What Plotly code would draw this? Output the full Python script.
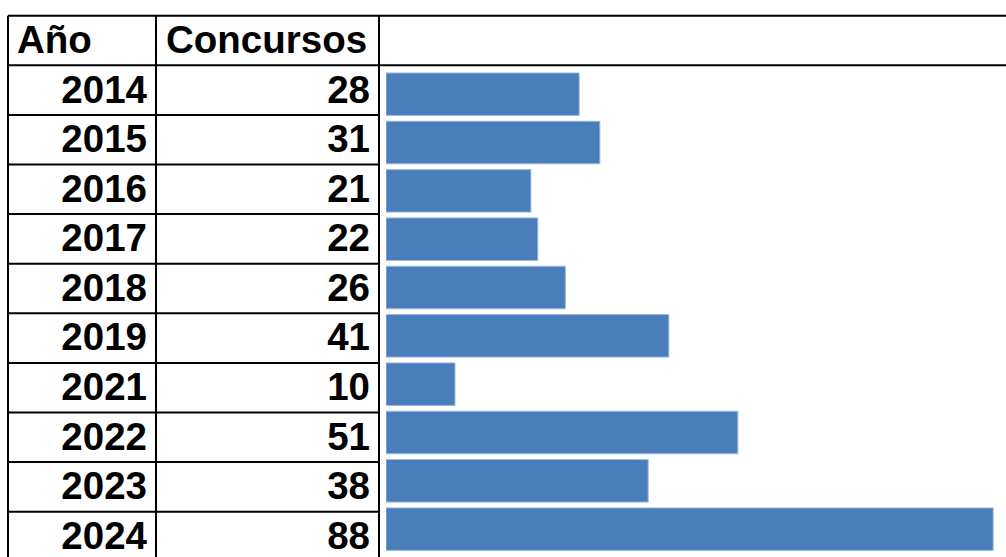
import plotly.graph_objects as go

# ---- data ----
years = ["2014", "2015", "2016", "2017", "2018", "2019", "2021", "2022", "2023", "2024"]
concursos = [28, 31, 21, 22, 26, 41, 10, 51, 38, 88]
header_year = "Año"
header_count = "Concursos"

BAR_COLOR = "#4a7ebb"
FONT = dict(family="Liberation Sans, Arial, sans-serif", size=38.5, color="black", weight="bold")

n = len(years)
row_idx = [i + 1 for i in range(n)]  # header is row 0 on the table axis

fig = go.Figure()

# table text: header
fig.add_trace(go.Scatter(
    x=[17, 166], y=[0, 0], mode="text", text=[header_year, header_count],
    textposition="middle right", textfont=FONT, hoverinfo="skip",
    xaxis="x", yaxis="y3"))
# years (right aligned)
fig.add_trace(go.Scatter(
    x=[147] * n, y=row_idx, mode="text", text=years,
    textposition="middle left", textfont=FONT, hoverinfo="skip",
    xaxis="x", yaxis="y3"))
# counts (right aligned)
fig.add_trace(go.Scatter(
    x=[370] * n, y=row_idx, mode="text", text=[str(v) for v in concursos],
    textposition="middle left", textfont=FONT, hoverinfo="skip",
    xaxis="x", yaxis="y3"))

# bars
fig.add_trace(go.Bar(
    x=concursos, y=years, orientation="h", width=0.88,
    marker=dict(color=BAR_COLOR, line=dict(color="#9dbbe0", width=1)),
    xaxis="x2", yaxis="y2", hoverinfo="skip"))

# table lines
LINE = dict(color="black", width=2)
shapes = []
top = -0.5
bottom = n + 1.5
# top border and header bottom extend to the right edge
shapes.append(dict(type="line", xref="x", yref="y", x0=8, x1=1006, y0=top, y1=top, line=LINE))
shapes.append(dict(type="line", xref="x", yref="y", x0=8, x1=1006, y0=0.5, y1=0.5, line=LINE))
for i in range(1, n + 1):
    b = i + 0.5
    shapes.append(dict(type="line", xref="x", yref="y", x0=8, x1=379, y0=b, y1=b, line=LINE))
for xv in [8, 156, 379]:
    shapes.append(dict(type="line", xref="x", yref="y", x0=xv, x1=xv, y0=top, y1=bottom, line=LINE))

fig.update_layout(
    width=1006, height=557,
    margin=dict(l=0, r=0, t=0, b=0),
    paper_bgcolor="white", plot_bgcolor="white",
    showlegend=False,
    shapes=shapes,
    xaxis=dict(domain=[0, 1], range=[0, 1006], visible=False, fixedrange=True),
    yaxis=dict(domain=[0, 1], range=[10.413, -0.8165], visible=False, fixedrange=True),
    yaxis3=dict(domain=[0, 1], range=[10.36, -0.8765], overlaying="y", anchor="x",
                visible=False, fixedrange=True),
    xaxis2=dict(domain=[386 / 1006, 1], range=[0, 89.86], anchor="y2", visible=False, fixedrange=True),
    yaxis2=dict(domain=[0, 1], range=[9.576, -1.949], overlaying="y", anchor="x2",
                type="category", categoryarray=years, categoryorder="array",
                visible=False, fixedrange=True),
)

fig.write_html("out.html", config={"displayModeBar": False},
               post_script="document.body.style.margin='0';document.body.style.overflow='hidden';")
